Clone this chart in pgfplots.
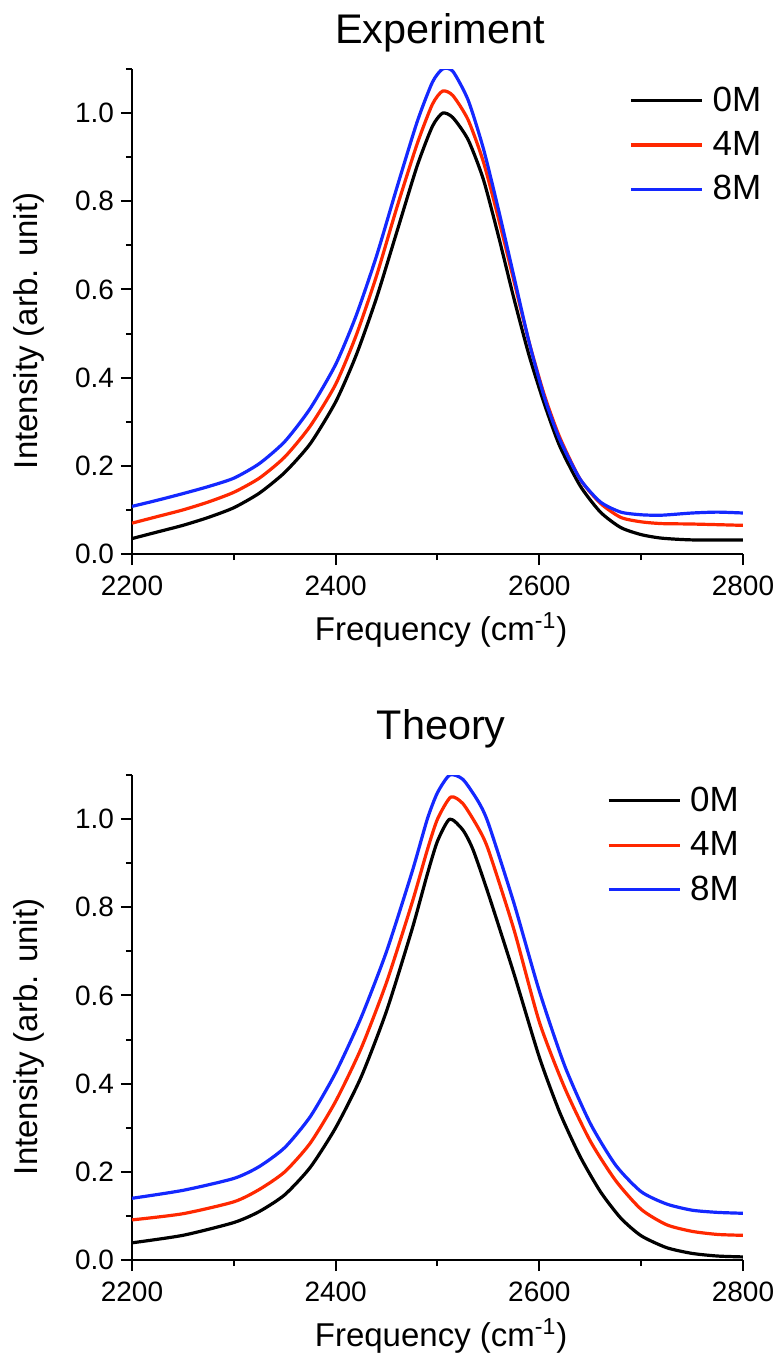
\documentclass[border=0pt]{standalone}
\usepackage{fontspec}
\setmainfont{Liberation Sans}
\usepackage{pgfplots}
\pgfplotsset{compat=1.18}
\definecolor{cred}{RGB}{255,40,0}
\definecolor{cblue}{RGB}{20,40,255}
\pgfplotsset{
  myaxis/.style={
    scale only axis, width=305.5pt, height=242.5pt,
    anchor=south west,
    xmin=2200, xmax=2800, ymin=0, ymax=1.1,
    axis lines=left, axis line style={-, line width=1pt},
    every tick/.style={black, line width=1pt},
    tick align=outside,
    major tick length=5.5pt, minor tick length=3pt,
    xtick={2200,2400,2600,2800}, minor xtick={2300,2500,2700},
    ytick={0,0.2,0.4,0.6,0.8,1.0}, minor ytick={0.1,0.3,0.5,0.7,0.9,1.1},
    /pgf/number format/assume math mode=true,
    /pgf/number format/set thousands separator={},
    yticklabel style={/pgf/number format/fixed, /pgf/number format/fixed zerofill, /pgf/number format/precision=1},
    tick label style={font=\fontsize{14}{16}\selectfont},
    xticklabel style={yshift=-2pt},
    xlabel={Frequency (cm\textsuperscript{-1})},
    ylabel={Intensity (arb. unit)},
    every axis x label/.style={at={(axis description cs:0.506,-0.157)}, anchor=center, font=\fontsize{16.5}{20}\selectfont},
    every axis y label/.style={at={(axis description cs:-0.169,0.46)}, anchor=center, rotate=90, font=\fontsize{16.5}{20}\selectfont},
    title style={font=\fontsize{20.7}{24}\selectfont, anchor=center},
    legend style={draw=none, fill=none, font=\fontsize{17.5}{20}\selectfont,
      nodes={inner sep=0pt}, column sep=4.5pt, row sep=8.5pt, cells={anchor=west}},
    legend image code/.code={\draw[#1, line width=1.6pt] (0pt,0pt) -- (35.5pt,0pt);},
    every axis plot/.append style={line width=1.6pt, line join=round},
  }
}
\begin{document}
\begin{tikzpicture}
\path[use as bounding box] (0,0) rectangle (389pt,-680.5pt);
% ---------------- Experiment ----------------
\begin{axis}[myaxis, at={(66pt,-277pt)},
  title={Experiment}, title style={at={(axis description cs:0.504,1.05)}},
  legend style={at={(axis description cs:0.8036,0.972)}, anchor=north west}]
\addplot[black, smooth, tension=0.4] coordinates {
(2200,0.035) (2225,0.05) (2250,0.065) (2275,0.083) (2300,0.105) (2325,0.138)
(2350,0.185) (2375,0.25) (2400,0.345) (2420,0.45) (2440,0.58) (2460,0.73)
(2480,0.88) (2495,0.97) (2505,1.00) (2515,0.99) (2530,0.94) (2545,0.85)
(2560,0.72) (2575,0.58) (2590,0.45) (2605,0.34) (2620,0.245) (2640,0.155)
(2660,0.095) (2680,0.06) (2700,0.044) (2720,0.036) (2750,0.032) (2800,0.032)};
\addlegendentry{0M}
\addplot[cred, smooth, tension=0.4] coordinates {
(2200,0.07) (2225,0.085) (2250,0.1) (2275,0.118) (2300,0.14) (2325,0.172)
(2350,0.22) (2375,0.29) (2400,0.385) (2420,0.495) (2440,0.63) (2460,0.785)
(2480,0.93) (2495,1.02) (2505,1.05) (2515,1.04) (2530,0.985) (2545,0.89)
(2560,0.76) (2575,0.62) (2590,0.48) (2605,0.36) (2620,0.265) (2640,0.17)
(2660,0.115) (2680,0.083) (2700,0.073) (2720,0.069) (2750,0.068) (2800,0.065)};
\addlegendentry{4M}
\addplot[cblue, smooth, tension=0.4] coordinates {
(2200,0.108) (2225,0.122) (2250,0.137) (2275,0.153) (2300,0.172) (2325,0.205)
(2350,0.255) (2375,0.33) (2400,0.43) (2420,0.54) (2440,0.675) (2460,0.83)
(2480,0.98) (2495,1.07) (2505,1.10) (2515,1.095) (2530,1.03) (2545,0.92)
(2560,0.78) (2575,0.63) (2590,0.48) (2605,0.355) (2620,0.26) (2640,0.17)
(2660,0.118) (2680,0.095) (2700,0.089) (2720,0.088) (2750,0.093) (2775,0.095) (2800,0.093)};
\addlegendentry{8M}
\end{axis}
% ---------------- Theory ----------------
\begin{axis}[myaxis, at={(66pt,-630pt)},
  title={Theory}, title style={at={(axis description cs:0.506,1.07)}},
  legend style={at={(axis description cs:0.767,0.984)}, anchor=north west}]
\addplot[black, smooth, tension=0.4] coordinates {
(2200,0.039) (2250,0.056) (2300,0.085) (2325,0.11) (2350,0.148) (2375,0.21)
(2400,0.30) (2425,0.415) (2450,0.565) (2475,0.75) (2490,0.875) (2500,0.95)
(2512,1.00) (2525,0.975) (2535,0.93) (2550,0.83) (2575,0.65) (2600,0.46)
(2620,0.335) (2640,0.235) (2660,0.155) (2680,0.095) (2700,0.055) (2725,0.028)
(2750,0.015) (2775,0.009) (2800,0.007)};
\addlegendentry{0M}
\addplot[cred, smooth, tension=0.4] coordinates {
(2200,0.091) (2250,0.105) (2300,0.132) (2325,0.16) (2350,0.2) (2375,0.265)
(2400,0.36) (2425,0.48) (2450,0.63) (2475,0.81) (2490,0.93) (2500,1.0)
(2513,1.05) (2525,1.035) (2540,0.98) (2550,0.93) (2575,0.75) (2600,0.54)
(2625,0.39) (2650,0.27) (2675,0.18) (2700,0.115) (2725,0.08) (2750,0.065)
(2775,0.058) (2800,0.056)};
\addlegendentry{4M}
\addplot[cblue, smooth, tension=0.4] coordinates {
(2200,0.14) (2250,0.158) (2300,0.185) (2325,0.212) (2350,0.255) (2375,0.325)
(2400,0.425) (2425,0.55) (2450,0.70) (2475,0.88) (2490,1.0) (2500,1.06)
(2512,1.10) (2525,1.09) (2540,1.04) (2550,0.99) (2575,0.81) (2600,0.61)
(2625,0.44) (2650,0.31) (2675,0.215) (2700,0.155) (2725,0.127)
(2750,0.113) (2775,0.108) (2800,0.106)};
\addlegendentry{8M}
\end{axis}
\end{tikzpicture}
\end{document}
